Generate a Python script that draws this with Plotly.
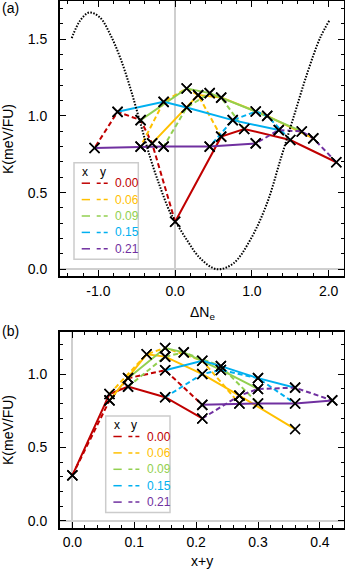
import plotly.graph_objects as go

W, H = 345, 571

values = ["0.00", "0.06", "0.09", "0.15", "0.21"]
colors = ["#C00000", "#FFC000", "#92D050", "#00B0F0", "#7030A0"]

# solid lines: fixed x (colour), y = 0, 0.06, 0.09, 0.15, 0.21
solid_dNe = [
    [0.0, 0.6, 0.9, 1.5, 2.1],
    [-0.3, 0.3, 0.6, 1.2, 1.8],
    [-0.45, 0.15, 0.45, 1.05, 1.65],
    [-0.75, -0.15, 0.15, 0.75, 1.35],
    [-1.05, -0.45, -0.15, 0.45, 1.05],
]
solid_K = [
    [0.31, 0.865, 0.915, 0.843, 0.698],
    [0.821, 1.136, 1.12, 1.001, 0.854],
    [0.973, 1.179, 1.149, 1.029, 0.899],
    [1.027, 1.092, 1.055, 0.973, 0.908],
    [0.791, 0.80, 0.80, 0.80, 0.821],
]
# panel (b): x+y, the 0.06 series has one more point
solid_xy = [
    [0.0, 0.06, 0.09, 0.15, 0.21],
    [0.06, 0.12, 0.15, 0.21, 0.27, 0.36],
    [0.09, 0.15, 0.18, 0.24, 0.30],
    [0.15, 0.21, 0.24, 0.30, 0.36],
    [0.21, 0.27, 0.30, 0.36, 0.42],
]
solid_K_b = [
    [0.31, 0.865, 0.915, 0.843, 0.698],
    [0.821, 1.136, 1.12, 1.001, 0.854, 0.625],
    [0.973, 1.179, 1.149, 1.029, 0.899],
    [1.027, 1.092, 1.055, 0.973, 0.908],
    [0.791, 0.80, 0.80, 0.80, 0.821],
]

# dashed lines: fixed y (colour), x = 0, 0.06, 0.09, 0.15, 0.21
dashed_dNe = [
    [0.0, -0.3, -0.45, -0.75, -1.05],
    [0.6, 0.3, 0.15, -0.15, -0.45],
    [0.9, 0.6, 0.45, 0.15, -0.15],
    [1.5, 1.2, 1.05, 0.75, 0.45],
    [2.1, 1.8, 1.65, 1.35, 1.05],
]
dashed_xy = [
    [0.0, 0.06, 0.09, 0.15, 0.21],
    [0.06, 0.12, 0.15, 0.21, 0.27],
    [0.09, 0.15, 0.18, 0.24, 0.30],
    [0.15, 0.21, 0.24, 0.30, 0.36],
    [0.21, 0.27, 0.30, 0.36, 0.42],
]
dashed_K = [
    [0.31, 0.821, 0.973, 1.027, 0.791],
    [0.865, 1.136, 1.179, 1.092, 0.80],
    [0.915, 1.12, 1.149, 1.055, 0.80],
    [0.843, 1.001, 1.029, 0.973, 0.80],
    [0.698, 0.854, 0.899, 0.908, 0.821],
]

# dotted curve in (a)
curve_dNe = [-1.347, -1.239, -1.118, -0.978, -0.848, -0.717, -0.587, -0.457, -0.326,
             -0.196, -0.065, 0.0, 0.153, 0.326, 0.544, 0.760, 0.978, 1.196, 1.370,
             1.543, 1.718, 1.891, 2.013]
curve_K = [1.508, 1.621, 1.675, 1.642, 1.534, 1.382, 1.187, 0.960, 0.730,
           0.537, 0.370, 0.315, 0.191, 0.072, 0.0, 0.039, 0.191, 0.429, 0.711,
           0.992, 1.274, 1.512, 1.626]

xticks_a = [-1, 0, 1, 2]
xticktext_a = ["-1.0", "0.0", "1.0", "2.0"]

FONT = "Liberation Sans, Arial, sans-serif"
DASH = "5px,3px"


def px(x):
    return x / W


def py(y):
    return 1 - y / H


fig = go.Figure()

for i in range(5):
    fig.add_trace(go.Scatter(x=dashed_dNe[i], y=dashed_K[i], mode="lines",
                             line=dict(color=colors[i], width=2, dash=DASH),
                             xaxis="x", yaxis="y"))
    fig.add_trace(go.Scatter(x=solid_dNe[i], y=solid_K[i], mode="lines",
                             line=dict(color=colors[i], width=2),
                             xaxis="x", yaxis="y"))
    fig.add_trace(go.Scatter(x=dashed_xy[i], y=dashed_K[i], mode="lines",
                             line=dict(color=colors[i], width=2, dash=DASH),
                             xaxis="x2", yaxis="y2"))
    fig.add_trace(go.Scatter(x=solid_xy[i], y=solid_K_b[i], mode="lines",
                             line=dict(color=colors[i], width=2),
                             xaxis="x2", yaxis="y2"))

fig.add_trace(go.Scatter(x=curve_dNe, y=curve_K, mode="lines", line_shape="spline",
                         line=dict(color="black", width=2, dash="1.5px,1.5px"),
                         xaxis="x", yaxis="y"))

marker = dict(symbol="x-thin", size=10, color="black", line=dict(color="black", width=1.6))
fig.add_trace(go.Scatter(x=sum(solid_dNe, []) + sum(dashed_dNe, []),
                         y=sum(solid_K, []) + sum(dashed_K, []),
                         mode="markers", marker=marker, xaxis="x", yaxis="y"))
fig.add_trace(go.Scatter(x=sum(solid_xy, []) + sum(dashed_xy, []),
                         y=sum(solid_K_b, []) + sum(dashed_K, []),
                         mode="markers", marker=marker, xaxis="x2", yaxis="y2"))


def minor(dtick):
    return dict(ticks="inside", ticklen=3, tickwidth=1, tickcolor="black",
                tickmode="linear", tick0=0, dtick=dtick)


def ax(**kw):
    d = dict(showline=True, linecolor="black", linewidth=2, mirror="allticks",
             ticks="inside", ticklen=6, tickwidth=1.2, tickcolor="black",
             showgrid=False, zeroline=True, zerolinecolor="#cfcfcf", zerolinewidth=1.5,
             tickfont=dict(size=14, color="black"), ticklabelstandoff=8,
             automargin=False)
    d.update(kw)
    return d


xdom = [px(60), px(344)]
fig.update_layout(
    width=W, height=H, margin=dict(l=0, r=0, t=0, b=0),
    paper_bgcolor="white", plot_bgcolor="white", showlegend=False,
    font=dict(family=FONT, color="black"),
    xaxis=ax(domain=xdom, anchor="y", range=[-1.5, 2.2], tickvals=xticks_a,
             ticktext=xticktext_a, minor=minor(0.2), ticklabelstandoff=1),
    yaxis=ax(domain=[py(276), py(1)], anchor="x", range=[-0.044, 1.75], dtick=0.5,
             tickformat=".1f", minor=minor(0.1)),
    xaxis2=ax(domain=xdom, anchor="y2", range=[-0.02, 0.439], dtick=0.1, tickformat=".1f",
              minor=minor(0.02), ticklabelstandoff=1),
    yaxis2=ax(domain=[py(527.5), py(331.7)], anchor="x2", range=[-0.046, 1.29], dtick=0.5,
              tickformat=".1f", minor=minor(0.1)),
)

ann = [
    dict(text="(a)", x=px(0), y=py(8), xanchor="left", font=dict(size=14)),
    dict(text="(b)", x=px(0), y=py(331), xanchor="left", font=dict(size=14)),
    dict(text="K(meV/FU)", x=px(8), y=py(139), textangle=-90, font=dict(size=14)),
    dict(text="K(meV/FU)", x=px(8), y=py(430), textangle=-90, font=dict(size=14)),
    dict(text="ΔN<sub>e</sub>", x=px(202), y=py(313), font=dict(size=14)),
    dict(text="x+y", x=px(202), y=py(561), font=dict(size=14)),
]
shapes = []

# custom legends (solid for x, dashed for y)
for bx, by in [(74, 162.7), (105.7, 416)]:
    shapes.append(dict(type="rect", xref="paper", yref="paper", x0=px(bx), x1=px(bx + 64.3),
                       y0=py(by + 96.6), y1=py(by), fillcolor="white",
                       line=dict(color="#cccccc", width=1.5), layer="above"))
    ann.append(dict(text="x", x=px(bx + 11), y=py(by + 9), font=dict(size=12)))
    ann.append(dict(text="y", x=px(bx + 28.7), y=py(by + 9), font=dict(size=12)))
    for i in range(5):
        yy = by + 20.5 + 16.4 * i
        shapes.append(dict(type="line", xref="paper", yref="paper", x0=px(bx + 7.7),
                           x1=px(bx + 16), y0=py(yy), y1=py(yy),
                           line=dict(color=colors[i], width=1.5), layer="above"))
        shapes.append(dict(type="line", xref="paper", yref="paper", x0=px(bx + 22.7),
                           x1=px(bx + 34.3), y0=py(yy), y1=py(yy),
                           line=dict(color=colors[i], width=1.5, dash="4px,3px"),
                           layer="above"))
        ann.append(dict(text=values[i], x=px(bx + 39), y=py(yy), xanchor="left",
                        font=dict(size=12, color=colors[i])))

for a in ann:
    a.update(xref="paper", yref="paper", showarrow=False)
    a.setdefault("xanchor", "center")
    a.setdefault("yanchor", "middle")

fig.update_layout(annotations=ann, shapes=shapes)
fig.write_html("out.html", config={"displayModeBar": False},
               post_script="document.body.style.margin='0';document.body.style.overflow='hidden';")
